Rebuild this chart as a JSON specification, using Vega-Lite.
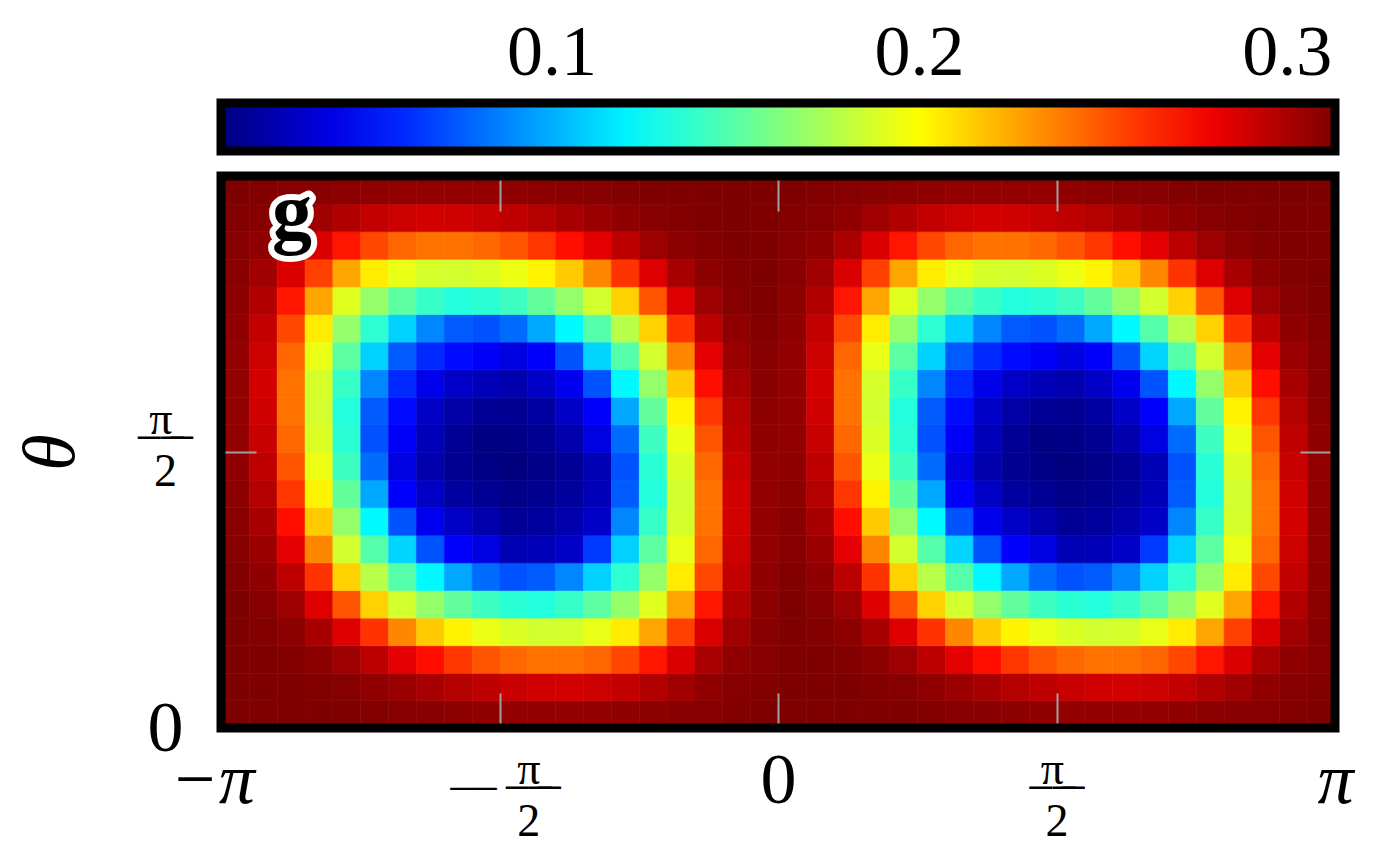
{
"$schema": "https://vega.github.io/schema/vega-lite/v6.json",
"width": 1114,
"height": 552,
"autosize": {"type": "none"},
"padding": {"left": 221, "top": 176, "right": 47, "bottom": 133},
"background": "white",
"config": {
  "view": {"stroke": "black", "strokeWidth": 9},
  "group": {"strokeForeground": true},
  "font": "Liberation Serif"
},
"resolve": {"axis": {"x": "independent", "y": "independent"}},
"layer": [
{
"data": {"values": [
{"i":-20,"j":0,"v":0.313},{"i":-19,"j":0,"v":0.313},{"i":-18,"j":0,"v":0.313},{"i":-17,"j":0,"v":0.313},{"i":-16,"j":0,"v":0.313},{"i":-15,"j":0,"v":0.312},{"i":-14,"j":0,"v":0.311},{"i":-13,"j":0,"v":0.310},{"i":-12,"j":0,"v":0.309},{"i":-11,"j":0,"v":0.308},{"i":-10,"j":0,"v":0.307},{"i":-9,"j":0,"v":0.307},{"i":-8,"j":0,"v":0.307},{"i":-7,"j":0,"v":0.307},{"i":-6,"j":0,"v":0.308},{"i":-5,"j":0,"v":0.309},{"i":-4,"j":0,"v":0.310},{"i":-3,"j":0,"v":0.311},{"i":-2,"j":0,"v":0.312},{"i":-1,"j":0,"v":0.313},
{"i":0,"j":0,"v":0.313},{"i":1,"j":0,"v":0.313},{"i":2,"j":0,"v":0.313},{"i":3,"j":0,"v":0.313},{"i":4,"j":0,"v":0.313},{"i":5,"j":0,"v":0.312},{"i":6,"j":0,"v":0.311},{"i":7,"j":0,"v":0.310},{"i":8,"j":0,"v":0.309},{"i":9,"j":0,"v":0.308},{"i":10,"j":0,"v":0.307},{"i":11,"j":0,"v":0.307},{"i":12,"j":0,"v":0.307},{"i":13,"j":0,"v":0.307},{"i":14,"j":0,"v":0.308},{"i":15,"j":0,"v":0.309},{"i":16,"j":0,"v":0.310},{"i":17,"j":0,"v":0.311},{"i":18,"j":0,"v":0.312},{"i":19,"j":0,"v":0.313},
{"i":-20,"j":1,"v":0.313},{"i":-19,"j":1,"v":0.313},{"i":-18,"j":1,"v":0.313},{"i":-17,"j":1,"v":0.312},{"i":-16,"j":1,"v":0.311},{"i":-15,"j":1,"v":0.308},{"i":-14,"j":1,"v":0.305},{"i":-13,"j":1,"v":0.301},{"i":-12,"j":1,"v":0.297},{"i":-11,"j":1,"v":0.294},{"i":-10,"j":1,"v":0.291},{"i":-9,"j":1,"v":0.289},{"i":-8,"j":1,"v":0.288},{"i":-7,"j":1,"v":0.290},{"i":-6,"j":1,"v":0.293},{"i":-5,"j":1,"v":0.298},{"i":-4,"j":1,"v":0.303},{"i":-3,"j":1,"v":0.308},{"i":-2,"j":1,"v":0.311},{"i":-1,"j":1,"v":0.312},
{"i":0,"j":1,"v":0.313},{"i":1,"j":1,"v":0.313},{"i":2,"j":1,"v":0.313},{"i":3,"j":1,"v":0.312},{"i":4,"j":1,"v":0.311},{"i":5,"j":1,"v":0.308},{"i":6,"j":1,"v":0.305},{"i":7,"j":1,"v":0.301},{"i":8,"j":1,"v":0.297},{"i":9,"j":1,"v":0.294},{"i":10,"j":1,"v":0.291},{"i":11,"j":1,"v":0.289},{"i":12,"j":1,"v":0.288},{"i":13,"j":1,"v":0.290},{"i":14,"j":1,"v":0.293},{"i":15,"j":1,"v":0.298},{"i":16,"j":1,"v":0.303},{"i":17,"j":1,"v":0.308},{"i":18,"j":1,"v":0.311},{"i":19,"j":1,"v":0.312},
{"i":-20,"j":2,"v":0.313},{"i":-19,"j":2,"v":0.313},{"i":-18,"j":2,"v":0.312},{"i":-17,"j":2,"v":0.309},{"i":-16,"j":2,"v":0.304},{"i":-15,"j":2,"v":0.295},{"i":-14,"j":2,"v":0.283},{"i":-13,"j":2,"v":0.271},{"i":-12,"j":2,"v":0.259},{"i":-11,"j":2,"v":0.250},{"i":-10,"j":2,"v":0.244},{"i":-9,"j":2,"v":0.241},{"i":-8,"j":2,"v":0.241},{"i":-7,"j":2,"v":0.245},{"i":-6,"j":2,"v":0.254},{"i":-5,"j":2,"v":0.269},{"i":-4,"j":2,"v":0.286},{"i":-3,"j":2,"v":0.300},{"i":-2,"j":2,"v":0.308},{"i":-1,"j":2,"v":0.311},
{"i":0,"j":2,"v":0.313},{"i":1,"j":2,"v":0.313},{"i":2,"j":2,"v":0.312},{"i":3,"j":2,"v":0.309},{"i":4,"j":2,"v":0.304},{"i":5,"j":2,"v":0.295},{"i":6,"j":2,"v":0.283},{"i":7,"j":2,"v":0.271},{"i":8,"j":2,"v":0.259},{"i":9,"j":2,"v":0.250},{"i":10,"j":2,"v":0.244},{"i":11,"j":2,"v":0.241},{"i":12,"j":2,"v":0.241},{"i":13,"j":2,"v":0.245},{"i":14,"j":2,"v":0.254},{"i":15,"j":2,"v":0.269},{"i":16,"j":2,"v":0.286},{"i":17,"j":2,"v":0.300},{"i":18,"j":2,"v":0.308},{"i":19,"j":2,"v":0.311},
{"i":-20,"j":3,"v":0.313},{"i":-19,"j":3,"v":0.312},{"i":-18,"j":3,"v":0.309},{"i":-17,"j":3,"v":0.301},{"i":-16,"j":3,"v":0.285},{"i":-15,"j":3,"v":0.260},{"i":-14,"j":3,"v":0.235},{"i":-13,"j":3,"v":0.215},{"i":-12,"j":3,"v":0.203},{"i":-11,"j":3,"v":0.194},{"i":-10,"j":3,"v":0.189},{"i":-9,"j":3,"v":0.186},{"i":-8,"j":3,"v":0.187},{"i":-7,"j":3,"v":0.193},{"i":-6,"j":3,"v":0.205},{"i":-5,"j":3,"v":0.226},{"i":-4,"j":3,"v":0.256},{"i":-3,"j":3,"v":0.286},{"i":-2,"j":3,"v":0.303},{"i":-1,"j":3,"v":0.310},
{"i":0,"j":3,"v":0.313},{"i":1,"j":3,"v":0.312},{"i":2,"j":3,"v":0.309},{"i":3,"j":3,"v":0.301},{"i":4,"j":3,"v":0.285},{"i":5,"j":3,"v":0.260},{"i":6,"j":3,"v":0.235},{"i":7,"j":3,"v":0.215},{"i":8,"j":3,"v":0.203},{"i":9,"j":3,"v":0.194},{"i":10,"j":3,"v":0.189},{"i":11,"j":3,"v":0.186},{"i":12,"j":3,"v":0.187},{"i":13,"j":3,"v":0.193},{"i":14,"j":3,"v":0.205},{"i":15,"j":3,"v":0.226},{"i":16,"j":3,"v":0.256},{"i":17,"j":3,"v":0.286},{"i":18,"j":3,"v":0.303},{"i":19,"j":3,"v":0.310},
{"i":-20,"j":4,"v":0.313},{"i":-19,"j":4,"v":0.311},{"i":-18,"j":4,"v":0.304},{"i":-17,"j":4,"v":0.285},{"i":-16,"j":4,"v":0.250},{"i":-15,"j":4,"v":0.213},{"i":-14,"j":4,"v":0.186},{"i":-13,"j":4,"v":0.168},{"i":-12,"j":4,"v":0.153},{"i":-11,"j":4,"v":0.142},{"i":-10,"j":4,"v":0.136},{"i":-9,"j":4,"v":0.134},{"i":-8,"j":4,"v":0.140},{"i":-7,"j":4,"v":0.151},{"i":-6,"j":4,"v":0.168},{"i":-5,"j":4,"v":0.190},{"i":-4,"j":4,"v":0.226},{"i":-3,"j":4,"v":0.269},{"i":-2,"j":4,"v":0.298},{"i":-1,"j":4,"v":0.309},
{"i":0,"j":4,"v":0.313},{"i":1,"j":4,"v":0.311},{"i":2,"j":4,"v":0.304},{"i":3,"j":4,"v":0.285},{"i":4,"j":4,"v":0.250},{"i":5,"j":4,"v":0.213},{"i":6,"j":4,"v":0.186},{"i":7,"j":4,"v":0.168},{"i":8,"j":4,"v":0.153},{"i":9,"j":4,"v":0.142},{"i":10,"j":4,"v":0.136},{"i":11,"j":4,"v":0.134},{"i":12,"j":4,"v":0.140},{"i":13,"j":4,"v":0.151},{"i":14,"j":4,"v":0.168},{"i":15,"j":4,"v":0.190},{"i":16,"j":4,"v":0.226},{"i":17,"j":4,"v":0.269},{"i":18,"j":4,"v":0.298},{"i":19,"j":4,"v":0.309},
{"i":-20,"j":5,"v":0.312},{"i":-19,"j":5,"v":0.308},{"i":-18,"j":5,"v":0.295},{"i":-17,"j":5,"v":0.260},{"i":-16,"j":5,"v":0.213},{"i":-15,"j":5,"v":0.178},{"i":-14,"j":5,"v":0.149},{"i":-13,"j":5,"v":0.122},{"i":-12,"j":5,"v":0.098},{"i":-11,"j":5,"v":0.080},{"i":-10,"j":5,"v":0.072},{"i":-9,"j":5,"v":0.075},{"i":-8,"j":5,"v":0.088},{"i":-7,"j":5,"v":0.110},{"i":-6,"j":5,"v":0.137},{"i":-5,"j":5,"v":0.168},{"i":-4,"j":5,"v":0.205},{"i":-3,"j":5,"v":0.254},{"i":-2,"j":5,"v":0.293},{"i":-1,"j":5,"v":0.308},
{"i":0,"j":5,"v":0.312},{"i":1,"j":5,"v":0.308},{"i":2,"j":5,"v":0.295},{"i":3,"j":5,"v":0.260},{"i":4,"j":5,"v":0.213},{"i":5,"j":5,"v":0.178},{"i":6,"j":5,"v":0.149},{"i":7,"j":5,"v":0.122},{"i":8,"j":5,"v":0.098},{"i":9,"j":5,"v":0.080},{"i":10,"j":5,"v":0.072},{"i":11,"j":5,"v":0.075},{"i":12,"j":5,"v":0.088},{"i":13,"j":5,"v":0.110},{"i":14,"j":5,"v":0.137},{"i":15,"j":5,"v":0.168},{"i":16,"j":5,"v":0.205},{"i":17,"j":5,"v":0.254},{"i":18,"j":5,"v":0.293},{"i":19,"j":5,"v":0.308},
{"i":-20,"j":6,"v":0.311},{"i":-19,"j":6,"v":0.305},{"i":-18,"j":6,"v":0.283},{"i":-17,"j":6,"v":0.235},{"i":-16,"j":6,"v":0.186},{"i":-15,"j":6,"v":0.149},{"i":-14,"j":6,"v":0.111},{"i":-13,"j":6,"v":0.073},{"i":-12,"j":6,"v":0.047},{"i":-11,"j":6,"v":0.039},{"i":-10,"j":6,"v":0.026},{"i":-9,"j":6,"v":0.027},{"i":-8,"j":6,"v":0.032},{"i":-7,"j":6,"v":0.065},{"i":-6,"j":6,"v":0.110},{"i":-5,"j":6,"v":0.151},{"i":-4,"j":6,"v":0.193},{"i":-3,"j":6,"v":0.245},{"i":-2,"j":6,"v":0.290},{"i":-1,"j":6,"v":0.307},
{"i":0,"j":6,"v":0.311},{"i":1,"j":6,"v":0.305},{"i":2,"j":6,"v":0.283},{"i":3,"j":6,"v":0.235},{"i":4,"j":6,"v":0.186},{"i":5,"j":6,"v":0.149},{"i":6,"j":6,"v":0.111},{"i":7,"j":6,"v":0.073},{"i":8,"j":6,"v":0.047},{"i":9,"j":6,"v":0.039},{"i":10,"j":6,"v":0.026},{"i":11,"j":6,"v":0.027},{"i":12,"j":6,"v":0.032},{"i":13,"j":6,"v":0.065},{"i":14,"j":6,"v":0.110},{"i":15,"j":6,"v":0.151},{"i":16,"j":6,"v":0.193},{"i":17,"j":6,"v":0.245},{"i":18,"j":6,"v":0.290},{"i":19,"j":6,"v":0.307},
{"i":-20,"j":7,"v":0.310},{"i":-19,"j":7,"v":0.301},{"i":-18,"j":7,"v":0.271},{"i":-17,"j":7,"v":0.215},{"i":-16,"j":7,"v":0.168},{"i":-15,"j":7,"v":0.122},{"i":-14,"j":7,"v":0.073},{"i":-13,"j":7,"v":0.043},{"i":-12,"j":7,"v":0.031},{"i":-11,"j":7,"v":0.024},{"i":-10,"j":7,"v":0.017},{"i":-9,"j":7,"v":0.019},{"i":-8,"j":7,"v":0.024},{"i":-7,"j":7,"v":0.032},{"i":-6,"j":7,"v":0.088},{"i":-5,"j":7,"v":0.140},{"i":-4,"j":7,"v":0.187},{"i":-3,"j":7,"v":0.241},{"i":-2,"j":7,"v":0.288},{"i":-1,"j":7,"v":0.307},
{"i":0,"j":7,"v":0.310},{"i":1,"j":7,"v":0.301},{"i":2,"j":7,"v":0.271},{"i":3,"j":7,"v":0.215},{"i":4,"j":7,"v":0.168},{"i":5,"j":7,"v":0.122},{"i":6,"j":7,"v":0.073},{"i":7,"j":7,"v":0.043},{"i":8,"j":7,"v":0.031},{"i":9,"j":7,"v":0.024},{"i":10,"j":7,"v":0.017},{"i":11,"j":7,"v":0.019},{"i":12,"j":7,"v":0.024},{"i":13,"j":7,"v":0.032},{"i":14,"j":7,"v":0.088},{"i":15,"j":7,"v":0.140},{"i":16,"j":7,"v":0.187},{"i":17,"j":7,"v":0.241},{"i":18,"j":7,"v":0.288},{"i":19,"j":7,"v":0.307},
{"i":-20,"j":8,"v":0.309},{"i":-19,"j":8,"v":0.297},{"i":-18,"j":8,"v":0.259},{"i":-17,"j":8,"v":0.203},{"i":-16,"j":8,"v":0.153},{"i":-15,"j":8,"v":0.098},{"i":-14,"j":8,"v":0.047},{"i":-13,"j":8,"v":0.031},{"i":-12,"j":8,"v":0.020},{"i":-11,"j":8,"v":0.016},{"i":-10,"j":8,"v":0.013},{"i":-9,"j":8,"v":0.015},{"i":-8,"j":8,"v":0.019},{"i":-7,"j":8,"v":0.027},{"i":-6,"j":8,"v":0.075},{"i":-5,"j":8,"v":0.134},{"i":-4,"j":8,"v":0.186},{"i":-3,"j":8,"v":0.241},{"i":-2,"j":8,"v":0.289},{"i":-1,"j":8,"v":0.307},
{"i":0,"j":8,"v":0.309},{"i":1,"j":8,"v":0.297},{"i":2,"j":8,"v":0.259},{"i":3,"j":8,"v":0.203},{"i":4,"j":8,"v":0.153},{"i":5,"j":8,"v":0.098},{"i":6,"j":8,"v":0.047},{"i":7,"j":8,"v":0.031},{"i":8,"j":8,"v":0.020},{"i":9,"j":8,"v":0.016},{"i":10,"j":8,"v":0.013},{"i":11,"j":8,"v":0.015},{"i":12,"j":8,"v":0.019},{"i":13,"j":8,"v":0.027},{"i":14,"j":8,"v":0.075},{"i":15,"j":8,"v":0.134},{"i":16,"j":8,"v":0.186},{"i":17,"j":8,"v":0.241},{"i":18,"j":8,"v":0.289},{"i":19,"j":8,"v":0.307},
{"i":-20,"j":9,"v":0.308},{"i":-19,"j":9,"v":0.294},{"i":-18,"j":9,"v":0.250},{"i":-17,"j":9,"v":0.194},{"i":-16,"j":9,"v":0.142},{"i":-15,"j":9,"v":0.080},{"i":-14,"j":9,"v":0.039},{"i":-13,"j":9,"v":0.024},{"i":-12,"j":9,"v":0.016},{"i":-11,"j":9,"v":0.012},{"i":-10,"j":9,"v":0.010},{"i":-9,"j":9,"v":0.013},{"i":-8,"j":9,"v":0.017},{"i":-7,"j":9,"v":0.026},{"i":-6,"j":9,"v":0.072},{"i":-5,"j":9,"v":0.136},{"i":-4,"j":9,"v":0.189},{"i":-3,"j":9,"v":0.244},{"i":-2,"j":9,"v":0.291},{"i":-1,"j":9,"v":0.307},
{"i":0,"j":9,"v":0.308},{"i":1,"j":9,"v":0.294},{"i":2,"j":9,"v":0.250},{"i":3,"j":9,"v":0.194},{"i":4,"j":9,"v":0.142},{"i":5,"j":9,"v":0.080},{"i":6,"j":9,"v":0.039},{"i":7,"j":9,"v":0.024},{"i":8,"j":9,"v":0.016},{"i":9,"j":9,"v":0.012},{"i":10,"j":9,"v":0.010},{"i":11,"j":9,"v":0.013},{"i":12,"j":9,"v":0.017},{"i":13,"j":9,"v":0.026},{"i":14,"j":9,"v":0.072},{"i":15,"j":9,"v":0.136},{"i":16,"j":9,"v":0.189},{"i":17,"j":9,"v":0.244},{"i":18,"j":9,"v":0.291},{"i":19,"j":9,"v":0.307},
{"i":-20,"j":10,"v":0.307},{"i":-19,"j":10,"v":0.291},{"i":-18,"j":10,"v":0.244},{"i":-17,"j":10,"v":0.189},{"i":-16,"j":10,"v":0.136},{"i":-15,"j":10,"v":0.072},{"i":-14,"j":10,"v":0.046},{"i":-13,"j":10,"v":0.027},{"i":-12,"j":10,"v":0.017},{"i":-11,"j":10,"v":0.011},{"i":-10,"j":10,"v":0.012},{"i":-9,"j":10,"v":0.016},{"i":-8,"j":10,"v":0.024},{"i":-7,"j":10,"v":0.039},{"i":-6,"j":10,"v":0.080},{"i":-5,"j":10,"v":0.142},{"i":-4,"j":10,"v":0.194},{"i":-3,"j":10,"v":0.250},{"i":-2,"j":10,"v":0.294},{"i":-1,"j":10,"v":0.308},
{"i":0,"j":10,"v":0.307},{"i":1,"j":10,"v":0.291},{"i":2,"j":10,"v":0.244},{"i":3,"j":10,"v":0.189},{"i":4,"j":10,"v":0.136},{"i":5,"j":10,"v":0.072},{"i":6,"j":10,"v":0.046},{"i":7,"j":10,"v":0.027},{"i":8,"j":10,"v":0.017},{"i":9,"j":10,"v":0.011},{"i":10,"j":10,"v":0.012},{"i":11,"j":10,"v":0.016},{"i":12,"j":10,"v":0.024},{"i":13,"j":10,"v":0.039},{"i":14,"j":10,"v":0.080},{"i":15,"j":10,"v":0.142},{"i":16,"j":10,"v":0.194},{"i":17,"j":10,"v":0.250},{"i":18,"j":10,"v":0.294},{"i":19,"j":10,"v":0.308},
{"i":-20,"j":11,"v":0.307},{"i":-19,"j":11,"v":0.289},{"i":-18,"j":11,"v":0.241},{"i":-17,"j":11,"v":0.186},{"i":-16,"j":11,"v":0.134},{"i":-15,"j":11,"v":0.075},{"i":-14,"j":11,"v":0.051},{"i":-13,"j":11,"v":0.031},{"i":-12,"j":11,"v":0.021},{"i":-11,"j":11,"v":0.017},{"i":-10,"j":11,"v":0.016},{"i":-9,"j":11,"v":0.020},{"i":-8,"j":11,"v":0.031},{"i":-7,"j":11,"v":0.047},{"i":-6,"j":11,"v":0.098},{"i":-5,"j":11,"v":0.153},{"i":-4,"j":11,"v":0.203},{"i":-3,"j":11,"v":0.259},{"i":-2,"j":11,"v":0.297},{"i":-1,"j":11,"v":0.309},
{"i":0,"j":11,"v":0.307},{"i":1,"j":11,"v":0.289},{"i":2,"j":11,"v":0.241},{"i":3,"j":11,"v":0.186},{"i":4,"j":11,"v":0.134},{"i":5,"j":11,"v":0.075},{"i":6,"j":11,"v":0.051},{"i":7,"j":11,"v":0.031},{"i":8,"j":11,"v":0.021},{"i":9,"j":11,"v":0.017},{"i":10,"j":11,"v":0.016},{"i":11,"j":11,"v":0.020},{"i":12,"j":11,"v":0.031},{"i":13,"j":11,"v":0.047},{"i":14,"j":11,"v":0.098},{"i":15,"j":11,"v":0.153},{"i":16,"j":11,"v":0.203},{"i":17,"j":11,"v":0.259},{"i":18,"j":11,"v":0.297},{"i":19,"j":11,"v":0.309},
{"i":-20,"j":12,"v":0.307},{"i":-19,"j":12,"v":0.288},{"i":-18,"j":12,"v":0.241},{"i":-17,"j":12,"v":0.187},{"i":-16,"j":12,"v":0.140},{"i":-15,"j":12,"v":0.088},{"i":-14,"j":12,"v":0.060},{"i":-13,"j":12,"v":0.042},{"i":-12,"j":12,"v":0.031},{"i":-11,"j":12,"v":0.027},{"i":-10,"j":12,"v":0.024},{"i":-9,"j":12,"v":0.031},{"i":-8,"j":12,"v":0.043},{"i":-7,"j":12,"v":0.073},{"i":-6,"j":12,"v":0.122},{"i":-5,"j":12,"v":0.168},{"i":-4,"j":12,"v":0.215},{"i":-3,"j":12,"v":0.271},{"i":-2,"j":12,"v":0.301},{"i":-1,"j":12,"v":0.310},
{"i":0,"j":12,"v":0.307},{"i":1,"j":12,"v":0.288},{"i":2,"j":12,"v":0.241},{"i":3,"j":12,"v":0.187},{"i":4,"j":12,"v":0.140},{"i":5,"j":12,"v":0.088},{"i":6,"j":12,"v":0.060},{"i":7,"j":12,"v":0.042},{"i":8,"j":12,"v":0.031},{"i":9,"j":12,"v":0.027},{"i":10,"j":12,"v":0.024},{"i":11,"j":12,"v":0.031},{"i":12,"j":12,"v":0.043},{"i":13,"j":12,"v":0.073},{"i":14,"j":12,"v":0.122},{"i":15,"j":12,"v":0.168},{"i":16,"j":12,"v":0.215},{"i":17,"j":12,"v":0.271},{"i":18,"j":12,"v":0.301},{"i":19,"j":12,"v":0.310},
{"i":-20,"j":13,"v":0.307},{"i":-19,"j":13,"v":0.290},{"i":-18,"j":13,"v":0.245},{"i":-17,"j":13,"v":0.193},{"i":-16,"j":13,"v":0.151},{"i":-15,"j":13,"v":0.110},{"i":-14,"j":13,"v":0.075},{"i":-13,"j":13,"v":0.060},{"i":-12,"j":13,"v":0.051},{"i":-11,"j":13,"v":0.046},{"i":-10,"j":13,"v":0.039},{"i":-9,"j":13,"v":0.047},{"i":-8,"j":13,"v":0.073},{"i":-7,"j":13,"v":0.111},{"i":-6,"j":13,"v":0.149},{"i":-5,"j":13,"v":0.186},{"i":-4,"j":13,"v":0.235},{"i":-3,"j":13,"v":0.283},{"i":-2,"j":13,"v":0.305},{"i":-1,"j":13,"v":0.311},
{"i":0,"j":13,"v":0.307},{"i":1,"j":13,"v":0.290},{"i":2,"j":13,"v":0.245},{"i":3,"j":13,"v":0.193},{"i":4,"j":13,"v":0.151},{"i":5,"j":13,"v":0.110},{"i":6,"j":13,"v":0.075},{"i":7,"j":13,"v":0.060},{"i":8,"j":13,"v":0.051},{"i":9,"j":13,"v":0.046},{"i":10,"j":13,"v":0.039},{"i":11,"j":13,"v":0.047},{"i":12,"j":13,"v":0.073},{"i":13,"j":13,"v":0.111},{"i":14,"j":13,"v":0.149},{"i":15,"j":13,"v":0.186},{"i":16,"j":13,"v":0.235},{"i":17,"j":13,"v":0.283},{"i":18,"j":13,"v":0.305},{"i":19,"j":13,"v":0.311},
{"i":-20,"j":14,"v":0.308},{"i":-19,"j":14,"v":0.293},{"i":-18,"j":14,"v":0.254},{"i":-17,"j":14,"v":0.205},{"i":-16,"j":14,"v":0.168},{"i":-15,"j":14,"v":0.137},{"i":-14,"j":14,"v":0.110},{"i":-13,"j":14,"v":0.088},{"i":-12,"j":14,"v":0.075},{"i":-11,"j":14,"v":0.072},{"i":-10,"j":14,"v":0.080},{"i":-9,"j":14,"v":0.098},{"i":-8,"j":14,"v":0.122},{"i":-7,"j":14,"v":0.149},{"i":-6,"j":14,"v":0.178},{"i":-5,"j":14,"v":0.213},{"i":-4,"j":14,"v":0.260},{"i":-3,"j":14,"v":0.295},{"i":-2,"j":14,"v":0.308},{"i":-1,"j":14,"v":0.312},
{"i":0,"j":14,"v":0.308},{"i":1,"j":14,"v":0.293},{"i":2,"j":14,"v":0.254},{"i":3,"j":14,"v":0.205},{"i":4,"j":14,"v":0.168},{"i":5,"j":14,"v":0.137},{"i":6,"j":14,"v":0.110},{"i":7,"j":14,"v":0.088},{"i":8,"j":14,"v":0.075},{"i":9,"j":14,"v":0.072},{"i":10,"j":14,"v":0.080},{"i":11,"j":14,"v":0.098},{"i":12,"j":14,"v":0.122},{"i":13,"j":14,"v":0.149},{"i":14,"j":14,"v":0.178},{"i":15,"j":14,"v":0.213},{"i":16,"j":14,"v":0.260},{"i":17,"j":14,"v":0.295},{"i":18,"j":14,"v":0.308},{"i":19,"j":14,"v":0.312},
{"i":-20,"j":15,"v":0.309},{"i":-19,"j":15,"v":0.298},{"i":-18,"j":15,"v":0.269},{"i":-17,"j":15,"v":0.226},{"i":-16,"j":15,"v":0.190},{"i":-15,"j":15,"v":0.168},{"i":-14,"j":15,"v":0.151},{"i":-13,"j":15,"v":0.140},{"i":-12,"j":15,"v":0.134},{"i":-11,"j":15,"v":0.136},{"i":-10,"j":15,"v":0.142},{"i":-9,"j":15,"v":0.153},{"i":-8,"j":15,"v":0.168},{"i":-7,"j":15,"v":0.186},{"i":-6,"j":15,"v":0.213},{"i":-5,"j":15,"v":0.250},{"i":-4,"j":15,"v":0.285},{"i":-3,"j":15,"v":0.304},{"i":-2,"j":15,"v":0.311},{"i":-1,"j":15,"v":0.313},
{"i":0,"j":15,"v":0.309},{"i":1,"j":15,"v":0.298},{"i":2,"j":15,"v":0.269},{"i":3,"j":15,"v":0.226},{"i":4,"j":15,"v":0.190},{"i":5,"j":15,"v":0.168},{"i":6,"j":15,"v":0.151},{"i":7,"j":15,"v":0.140},{"i":8,"j":15,"v":0.134},{"i":9,"j":15,"v":0.136},{"i":10,"j":15,"v":0.142},{"i":11,"j":15,"v":0.153},{"i":12,"j":15,"v":0.168},{"i":13,"j":15,"v":0.186},{"i":14,"j":15,"v":0.213},{"i":15,"j":15,"v":0.250},{"i":16,"j":15,"v":0.285},{"i":17,"j":15,"v":0.304},{"i":18,"j":15,"v":0.311},{"i":19,"j":15,"v":0.313},
{"i":-20,"j":16,"v":0.310},{"i":-19,"j":16,"v":0.303},{"i":-18,"j":16,"v":0.286},{"i":-17,"j":16,"v":0.256},{"i":-16,"j":16,"v":0.226},{"i":-15,"j":16,"v":0.205},{"i":-14,"j":16,"v":0.193},{"i":-13,"j":16,"v":0.187},{"i":-12,"j":16,"v":0.186},{"i":-11,"j":16,"v":0.189},{"i":-10,"j":16,"v":0.194},{"i":-9,"j":16,"v":0.203},{"i":-8,"j":16,"v":0.215},{"i":-7,"j":16,"v":0.235},{"i":-6,"j":16,"v":0.260},{"i":-5,"j":16,"v":0.285},{"i":-4,"j":16,"v":0.301},{"i":-3,"j":16,"v":0.309},{"i":-2,"j":16,"v":0.312},{"i":-1,"j":16,"v":0.313},
{"i":0,"j":16,"v":0.310},{"i":1,"j":16,"v":0.303},{"i":2,"j":16,"v":0.286},{"i":3,"j":16,"v":0.256},{"i":4,"j":16,"v":0.226},{"i":5,"j":16,"v":0.205},{"i":6,"j":16,"v":0.193},{"i":7,"j":16,"v":0.187},{"i":8,"j":16,"v":0.186},{"i":9,"j":16,"v":0.189},{"i":10,"j":16,"v":0.194},{"i":11,"j":16,"v":0.203},{"i":12,"j":16,"v":0.215},{"i":13,"j":16,"v":0.235},{"i":14,"j":16,"v":0.260},{"i":15,"j":16,"v":0.285},{"i":16,"j":16,"v":0.301},{"i":17,"j":16,"v":0.309},{"i":18,"j":16,"v":0.312},{"i":19,"j":16,"v":0.313},
{"i":-20,"j":17,"v":0.311},{"i":-19,"j":17,"v":0.308},{"i":-18,"j":17,"v":0.300},{"i":-17,"j":17,"v":0.286},{"i":-16,"j":17,"v":0.269},{"i":-15,"j":17,"v":0.254},{"i":-14,"j":17,"v":0.245},{"i":-13,"j":17,"v":0.241},{"i":-12,"j":17,"v":0.241},{"i":-11,"j":17,"v":0.244},{"i":-10,"j":17,"v":0.250},{"i":-9,"j":17,"v":0.259},{"i":-8,"j":17,"v":0.271},{"i":-7,"j":17,"v":0.283},{"i":-6,"j":17,"v":0.295},{"i":-5,"j":17,"v":0.304},{"i":-4,"j":17,"v":0.309},{"i":-3,"j":17,"v":0.312},{"i":-2,"j":17,"v":0.313},{"i":-1,"j":17,"v":0.313},
{"i":0,"j":17,"v":0.311},{"i":1,"j":17,"v":0.308},{"i":2,"j":17,"v":0.300},{"i":3,"j":17,"v":0.286},{"i":4,"j":17,"v":0.269},{"i":5,"j":17,"v":0.254},{"i":6,"j":17,"v":0.245},{"i":7,"j":17,"v":0.241},{"i":8,"j":17,"v":0.241},{"i":9,"j":17,"v":0.244},{"i":10,"j":17,"v":0.250},{"i":11,"j":17,"v":0.259},{"i":12,"j":17,"v":0.271},{"i":13,"j":17,"v":0.283},{"i":14,"j":17,"v":0.295},{"i":15,"j":17,"v":0.304},{"i":16,"j":17,"v":0.309},{"i":17,"j":17,"v":0.312},{"i":18,"j":17,"v":0.313},{"i":19,"j":17,"v":0.313},
{"i":-20,"j":18,"v":0.312},{"i":-19,"j":18,"v":0.311},{"i":-18,"j":18,"v":0.308},{"i":-17,"j":18,"v":0.303},{"i":-16,"j":18,"v":0.298},{"i":-15,"j":18,"v":0.293},{"i":-14,"j":18,"v":0.290},{"i":-13,"j":18,"v":0.288},{"i":-12,"j":18,"v":0.289},{"i":-11,"j":18,"v":0.291},{"i":-10,"j":18,"v":0.294},{"i":-9,"j":18,"v":0.297},{"i":-8,"j":18,"v":0.301},{"i":-7,"j":18,"v":0.305},{"i":-6,"j":18,"v":0.308},{"i":-5,"j":18,"v":0.311},{"i":-4,"j":18,"v":0.312},{"i":-3,"j":18,"v":0.313},{"i":-2,"j":18,"v":0.313},{"i":-1,"j":18,"v":0.313},
{"i":0,"j":18,"v":0.312},{"i":1,"j":18,"v":0.311},{"i":2,"j":18,"v":0.308},{"i":3,"j":18,"v":0.303},{"i":4,"j":18,"v":0.298},{"i":5,"j":18,"v":0.293},{"i":6,"j":18,"v":0.290},{"i":7,"j":18,"v":0.288},{"i":8,"j":18,"v":0.289},{"i":9,"j":18,"v":0.291},{"i":10,"j":18,"v":0.294},{"i":11,"j":18,"v":0.297},{"i":12,"j":18,"v":0.301},{"i":13,"j":18,"v":0.305},{"i":14,"j":18,"v":0.308},{"i":15,"j":18,"v":0.311},{"i":16,"j":18,"v":0.312},{"i":17,"j":18,"v":0.313},{"i":18,"j":18,"v":0.313},{"i":19,"j":18,"v":0.313},
{"i":-20,"j":19,"v":0.313},{"i":-19,"j":19,"v":0.312},{"i":-18,"j":19,"v":0.311},{"i":-17,"j":19,"v":0.310},{"i":-16,"j":19,"v":0.309},{"i":-15,"j":19,"v":0.308},{"i":-14,"j":19,"v":0.307},{"i":-13,"j":19,"v":0.307},{"i":-12,"j":19,"v":0.307},{"i":-11,"j":19,"v":0.307},{"i":-10,"j":19,"v":0.308},{"i":-9,"j":19,"v":0.309},{"i":-8,"j":19,"v":0.310},{"i":-7,"j":19,"v":0.311},{"i":-6,"j":19,"v":0.312},{"i":-5,"j":19,"v":0.313},{"i":-4,"j":19,"v":0.313},{"i":-3,"j":19,"v":0.313},{"i":-2,"j":19,"v":0.313},{"i":-1,"j":19,"v":0.313},
{"i":0,"j":19,"v":0.313},{"i":1,"j":19,"v":0.312},{"i":2,"j":19,"v":0.311},{"i":3,"j":19,"v":0.310},{"i":4,"j":19,"v":0.309},{"i":5,"j":19,"v":0.308},{"i":6,"j":19,"v":0.307},{"i":7,"j":19,"v":0.307},{"i":8,"j":19,"v":0.307},{"i":9,"j":19,"v":0.307},{"i":10,"j":19,"v":0.308},{"i":11,"j":19,"v":0.309},{"i":12,"j":19,"v":0.310},{"i":13,"j":19,"v":0.311},{"i":14,"j":19,"v":0.312},{"i":15,"j":19,"v":0.313},{"i":16,"j":19,"v":0.313},{"i":17,"j":19,"v":0.313},{"i":18,"j":19,"v":0.313},{"i":19,"j":19,"v":0.313}
]},
"mark": {"type": "rect", "strokeWidth": 0.6, "binSpacing": 0},
"encoding": {
  "x": {"field": "i", "type": "quantitative", "bin": {"binned": true, "step": 1},
    "scale": {"domain": [-20, 20], "nice": false, "zero": false},
    "axis": {"orient": "bottom", "values": [-20, -10, 0, 10, 20], "title": null, "domain": false, "grid": false,
      "tickSize": -35, "tickWidth": 2,
      "tickColor": {"condition": {"test": "datum.value == -20", "value": "transparent"}, "value": "#a0a0a0"},
      "labelPadding": {"condition": {"test": "abs(datum.value) == 10", "value": 76}, "value": 87},
      "labelOffset": {"condition": {"test": "datum.value == -20", "value": -9}, "value": 0},
      "labelBaseline": "middle", "labelAlign": "center", "labelColor": "black",
      "labelFont": "Liberation Serif",
      "labelFontSize": {"condition": {"test": "abs(datum.value) == 10", "value": 46}, "value": 72},
      "labelFontStyle": {"condition": {"test": "abs(datum.value) == 20", "value": "italic"}, "value": "normal"},
      "labelLineHeight": 52, "labelFlush": false, "labelOverlap": false, "labelBound": false, "zindex": 1,
      "labelExpr": "datum.value == -20 ? '−π' : datum.value == -10 ? ['__\u00a0\u2009\u0332π\u0332\u2009\u0332', '\u200b\u00a0\u00a0\u00a0\u00a0\u00a02'] : datum.value == 0 ? '0' : datum.value == 10 ? ['\u2009\u0332π\u0332\u2009\u0332', '2'] : 'π'"}},
  "y": {"field": "j", "type": "quantitative", "bin": {"binned": true, "step": 1},
    "scale": {"domain": [0, 20], "nice": false, "zero": false},
    "axis": {"orient": "left", "values": [0, 10], "domain": false, "grid": false,
      "tickSize": -35, "tickWidth": 2,
      "tickColor": {"condition": {"test": "datum.value == 0", "value": "transparent"}, "value": "#a0a0a0"},
      "labelPadding": 91, "labelBaseline": "middle", "labelAlign": "center", "labelColor": "black",
      "labelOffset": {"condition": {"test": "datum.value == 10", "value": -33}, "value": 0},
      "labelFont": "Liberation Serif",
      "labelFontSize": {"condition": {"test": "datum.value == 10", "value": 46}, "value": 72},
      "labelLineHeight": 52, "labelFlush": false, "labelOverlap": false, "labelBound": false, "zindex": 1,
      "labelExpr": "datum.value == 0 ? '0' : ['\u2009\u0332π\u0332\u2009\u0332', '2']",
      "title": "θ", "titleFont": "Liberation Serif", "titleFontSize": 75, "titleFontStyle": "italic", "titleFontWeight": "normal",
      "titleColor": "black", "titleAngle": 270, "titleX": -171, "titleY": 276, "titleAlign": "center", "titleBaseline": "middle"}},
  "fill": {"field": "v", "type": "quantitative",
    "scale": {"domain": [0.01, 0.047875, 0.08575, 0.123625, 0.1615, 0.199375, 0.23725, 0.275125, 0.313],
      "range": ["#00007f", "#0000ff", "#007fff", "#00ffff", "#7fff7f", "#ffff00", "#ff7f00", "#ff0000", "#7f0000"],
      "interpolate": "rgb", "clamp": true},
    "legend": {"type": "gradient", "orient": "none", "legendX": 0, "legendY": -73, "direction": "horizontal", "title": null,
      "gradientLength": 1114, "gradientThickness": 48, "gradientStrokeColor": "black", "gradientStrokeWidth": 9,
      "values": [0.1, 0.2, 0.3], "format": ".1f", "padding": 0, "offset": 0,
      "labelFont": "Liberation Serif", "labelFontSize": 72, "labelColor": "black",
      "labelOffset": -133, "labelOverlap": false, "labelLimit": 300}},
  "stroke": {"field": "v", "type": "quantitative",
    "scale": {"domain": [0.0100001, 0.047875, 0.08575, 0.123625, 0.1615, 0.199375, 0.23725, 0.275125, 0.3130001],
      "range": ["#00007f", "#0000ff", "#007fff", "#00ffff", "#7fff7f", "#ffff00", "#ff7f00", "#ff0000", "#7f0000"],
      "interpolate": "rgb", "clamp": true},
    "legend": null}
}
},
{
"data": {"values": [{"i": -17.45, "j": 17.7, "t": "g"}]},
"mark": {"type": "text", "font": "Liberation Serif", "fontWeight": "bold", "fontSize": 80, "align": "center", "baseline": "alphabetic",
  "fill": "white", "stroke": "white", "strokeWidth": 12, "strokeJoin": "round"},
"encoding": {
  "x": {"field": "i", "type": "quantitative", "scale": {"domain": [-20, 20], "nice": false, "zero": false},
    "axis": {"orient": "top", "values": [-10, 0, 10], "labels": false, "domain": false, "grid": false, "title": null,
      "tickSize": -35, "tickColor": "#a0a0a0", "tickWidth": 2, "zindex": 1}},
  "y": {"field": "j", "type": "quantitative", "scale": {"domain": [0, 20], "nice": false, "zero": false},
    "axis": {"orient": "right", "values": [10], "labels": false, "domain": false, "grid": false, "title": null,
      "tickSize": -35, "tickColor": "#a0a0a0", "tickWidth": 2, "zindex": 1}},
  "text": {"field": "t"}
}
},
{
"data": {"values": [{"i": -17.45, "j": 17.7, "t": "g"}]},
"mark": {"type": "text", "font": "Liberation Serif", "fontWeight": "bold", "fontSize": 80, "align": "center", "baseline": "alphabetic", "fill": "black"},
"encoding": {
  "x": {"field": "i", "type": "quantitative", "scale": {"domain": [-20, 20], "nice": false, "zero": false}, "axis": null},
  "y": {"field": "j", "type": "quantitative", "scale": {"domain": [0, 20], "nice": false, "zero": false}, "axis": null},
  "text": {"field": "t"}
}
}
]
}
